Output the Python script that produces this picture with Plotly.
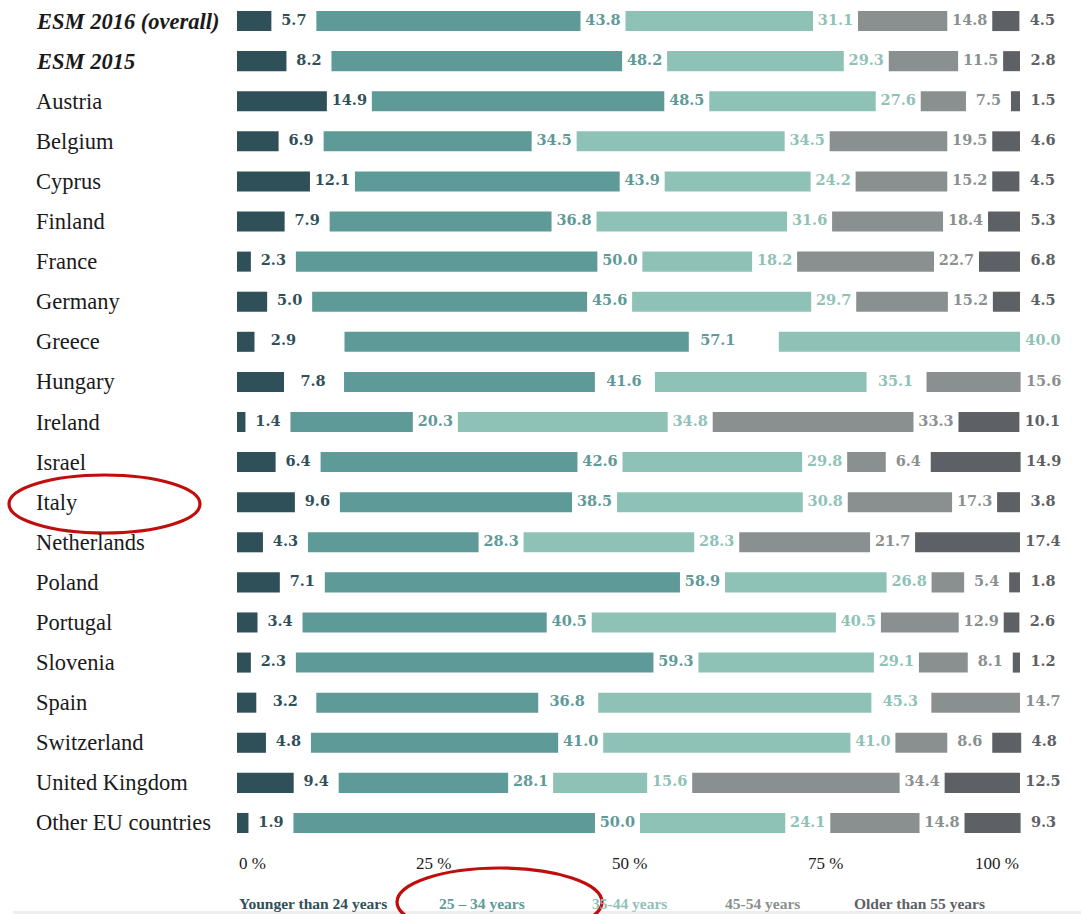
import plotly.graph_objects as go

categories = ["ESM 2016 (overall)", "ESM 2015", "Austria", "Belgium", "Cyprus", "Finland",
              "France", "Germany", "Greece", "Hungary", "Ireland", "Israel", "Italy",
              "Netherlands", "Poland", "Portugal", "Slovenia", "Spain", "Switzerland",
              "United Kingdom", "Other EU countries"]
highlighted = ["ESM 2016 (overall)", "ESM 2015"]

age_groups = ["Younger than 24 years", "25 – 34 years", "35-44 years", "45-54 years", "Older than 55 years"]
under_24 = [5.7, 8.2, 14.9, 6.9, 12.1, 7.9, 2.3, 5.0, 2.9, 7.8, 1.4, 6.4, 9.6, 4.3, 7.1, 3.4, 2.3, 3.2, 4.8, 9.4, 1.9]
age_25_34 = [43.8, 48.2, 48.5, 34.5, 43.9, 36.8, 50.0, 45.6, 57.1, 41.6, 20.3, 42.6, 38.5, 28.3, 58.9, 40.5, 59.3, 36.8, 41.0, 28.1, 50.0]
age_35_44 = [31.1, 29.3, 27.6, 34.5, 24.2, 31.6, 18.2, 29.7, 40.0, 35.1, 34.8, 29.8, 30.8, 28.3, 26.8, 40.5, 29.1, 45.3, 41.0, 15.6, 24.1]
age_45_54 = [14.8, 11.5, 7.5, 19.5, 15.2, 18.4, 22.7, 15.2, 0.0, 15.6, 33.3, 6.4, 17.3, 21.7, 5.4, 12.9, 8.1, 14.7, 8.6, 34.4, 14.8]
over_55 = [4.5, 2.8, 1.5, 4.6, 4.5, 5.3, 6.8, 4.5, 0.0, 0.0, 10.1, 14.9, 3.8, 17.4, 1.8, 2.6, 1.2, 0.0, 4.8, 12.5, 9.3]

axis_ticks = [0, 25, 50, 75, 100]
axis_tick_labels = ["0 %", "25 %", "50 %", "75 %", "100 %"]

colors = ["#2f4f59", "#5e9a98", "#8fc2b7", "#8a9090", "#5d6166"]

# ---- layout constants (pixels) ----
W, H = 1081, 914
PLOT_L, PLOT_R = 237, 1078       # plot area includes the room for the last label
BAR_END = 1020                   # where a full row of bars ends
PLOT_T, PLOT_B = 1, 843
PLOT_W = PLOT_R - PLOT_L
PLOT_H = PLOT_B - PLOT_T
PX_PER_UNIT = 6.03               # pixels per percentage point of bar length
GAP_BUDGET = (BAR_END - PLOT_L) / PX_PER_UNIT - 100   # label room shared by a row
X_MAX = PLOT_W / PX_PER_UNIT

def px_x(px):
    return (px - PLOT_L) / PLOT_W

def px_y(py):
    return (PLOT_B - py) / PLOT_H

series = [under_24, age_25_34, age_35_44, age_45_54, over_55]
n = len(categories)
bases = [[0.0] * n for _ in series]
lab_x, lab_y, lab_t, lab_c = [], [], [], []

for r, cat in enumerate(categories):
    vals = [s[r] for s in series]
    nz = [i for i, v in enumerate(vals) if v > 0]
    gap = GAP_BUDGET / (len(nz) - 1)
    pos = 0.0
    for k, i in enumerate(nz):
        bases[i][r] = pos
        end = pos + vals[i]
        if k < len(nz) - 1:
            lx = end + min(gap / 2, 29 / PX_PER_UNIT)
        else:
            lx = end + 23 / PX_PER_UNIT
        lab_x.append(lx)
        lab_y.append(cat)
        lab_t.append(f"{vals[i]:.1f}")
        lab_c.append(colors[i])
        pos = end + gap

fig = go.Figure()
for i, s in enumerate(series):
    fig.add_trace(go.Bar(
        y=categories, x=s, base=bases[i], orientation="h",
        marker=dict(color=colors[i], line=dict(width=0)),
        width=0.5, name=age_groups[i], showlegend=False, hoverinfo="skip",
    ))

fig.add_trace(go.Scatter(
    x=lab_x, y=lab_y, text=lab_t, mode="text", textposition="middle center",
    textfont=dict(family="DejaVu Serif", size=14.5, color=lab_c, weight="bold"),
    cliponaxis=False, showlegend=False, hoverinfo="skip",
))

annotations = []
for cat in categories:
    txt = f"<b><i>{cat}</i></b>" if cat in highlighted else cat
    annotations.append(dict(
        x=px_x(34), xref="paper", xanchor="left", y=cat, yref="y", yanchor="middle",
        text=txt, showarrow=False,
        font=dict(family="Liberation Serif", size=22.5, color="#1a1a1a"),
    ))

for t, lab in zip(axis_ticks, axis_tick_labels):
    anchor = "left" if t == axis_ticks[0] else ("right" if t == axis_ticks[-1] else "center")
    annotations.append(dict(
        x=px_x(PLOT_L + t / 100 * (1021 - PLOT_L)), xref="paper", xanchor=anchor,
        y=px_y(863), yref="paper", yanchor="middle",
        text=lab, showarrow=False,
        font=dict(family="Liberation Serif", size=17, color="#1a1a1a"),
    ))

legend_x_px = [237, 437, 590, 723, 852]
for g, c, lx in zip(age_groups, colors, legend_x_px):
    annotations.append(dict(
        x=px_x(lx), xref="paper", xanchor="left",
        y=px_y(903), yref="paper", yanchor="middle",
        text=f"<b>{g}</b>", showarrow=False,
        font=dict(family="Liberation Serif", size=15.5, color=c),
    ))

shapes = [
    dict(type="rect", xref="paper", yref="paper",
         x0=px_x(13), x1=px_x(W), y0=px_y(911), y1=px_y(914),
         fillcolor="#eeeeee", line=dict(width=0), layer="below"),
    dict(type="circle", xref="paper", yref="paper",
         x0=px_x(9), x1=px_x(200), y0=px_y(475), y1=px_y(533),
         line=dict(color="#c00d0d", width=3.2)),
    dict(type="circle", xref="paper", yref="paper",
         x0=px_x(397), x1=px_x(602), y0=px_y(868), y1=px_y(936),
         line=dict(color="#c00d0d", width=3.2)),
]

fig.update_layout(
    width=W, height=H,
    margin=dict(l=PLOT_L, r=W - PLOT_R, t=PLOT_T, b=H - PLOT_B, pad=0),
    paper_bgcolor="white", plot_bgcolor="white",
    barmode="overlay", bargap=0.5,
    xaxis=dict(range=[0, X_MAX], visible=False, fixedrange=True),
    yaxis=dict(categoryorder="array", categoryarray=categories,
               range=[n - 0.5, -0.5], showticklabels=False, showgrid=False,
               zeroline=False, showline=False, ticks="", fixedrange=True),
    annotations=annotations, shapes=shapes,
    showlegend=False,
)

fig.write_html("out.html", config={"displayModeBar": False},
               post_script="document.body.style.margin='0';")
